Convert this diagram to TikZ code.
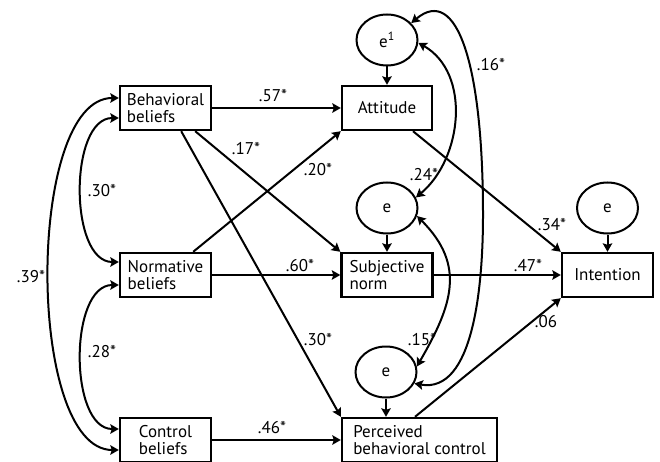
\documentclass[tikz,border=0pt]{standalone}
\usepackage{fontspec}
\setmainfont{PT Sans}
\usetikzlibrary{arrows.meta,shapes.geometric,positioning}

\begin{document}
\begin{tikzpicture}[x=1pt,y=-1pt,>={Stealth[length=8.5pt,width=9.5pt,inset=1.5pt]},
                    line width=2pt,
                    var/.style={draw,line width=2.4pt,minimum width=91pt,minimum height=44pt,
                                align=left,inner sep=2pt,font=\fontsize{17}{16.5}\selectfont},
                    err/.style={draw,ellipse,line width=2pt,minimum width=61pt,minimum height=51pt,
                                inner sep=0pt,font=\fontsize{17}{17}\selectfont},
                    coef/.style={inner sep=0pt,font=\fontsize{17}{17}\selectfont}]

\useasboundingbox (0,0) rectangle (660,462);

\node[var] (bb) at (165.5,108) {Behavioral\\beliefs};
\node[var] (nb) at (165.5,275) {Normative\\beliefs};
\node[var] (cb) at (165.5,440) {Control\\beliefs};
\node[var, minimum width=90pt] (att) at (387,108) {Attitude};
\node[var] (sn) at (387,275) {Subjective\\norm};
\node[var, minimum width=155pt] (pbc) at (419.5,440) {Perceived\\behavioral control};
\node[var] (int) at (607.5,275) {Intention};

\node[err] (e1) at (387,40) {e\textsuperscript{1}};
\node[err] (e2) at (387,208) {e};
\node[err] (e3) at (386,372) {e};
\node[err] (e4) at (607.5,208) {e};

\draw[->] (bb) -- (att);
\draw[->] ([xshift=-17pt]bb.south east) -- (sn.north west);
\draw[->] ([xshift=-31pt]bb.south east) -- (pbc.north west);
\draw[->] ([xshift=-19pt]nb.north east) -- (att.south west);
\draw[->] (nb) -- (sn);
\draw[->] (cb) -- (pbc);
\draw[->] ([xshift=26pt]att.south) -- (int.north west);
\draw[->] (sn) -- (int);
\draw[->] ([xshift=-4.5pt]pbc.north) -- (int.south west);

\draw[->] (e1) -- (att);
\draw[->] (e2) -- (sn);
\draw[->] (e3.south) -- (e3.south |- pbc.north);
\draw[->] (e4) -- (int);

\draw[<->] ([yshift=-10pt]bb.west) to[out=180,in=180,distance=50pt] ([yshift=13pt]nb.west);
\draw[<->] ([yshift=-10pt]nb.west) to[out=180,in=180,distance=50pt] ([yshift=11pt]cb.west);
\draw[<->] ([yshift=10pt]bb.west) to[out=180,in=180,distance=93pt] ([yshift=-10pt]cb.west);

\draw[<->] (e1.-5) to[out=-30,in=40,distance=61pt] (e2.20);
\draw[<->] (e2.-15) to[out=-45,in=60,distance=70pt] (e3.10);
\coordinate (c16) at (483,215);
\draw[<->] (e1.35) to[out=40,in=90,out distance=60pt,in distance=150pt] (c16)
                   to[out=-90,in=-10,out distance=71pt,in distance=60pt] (e3.-22);

\node[coef] (l57) at (273,96) {.57*};
\node[coef] (l17) at (246,149) {.17*};
\node[coef] (l20) at (318,170) {.20*};
\node[coef] (l30a) at (102,191) {.30*};
\node[coef] (l39) at (31,277) {.39*};
\node[coef] (l28) at (102,352) {.28*};
\node[coef] (l60) at (300,266) {.60*};
\node[coef] (l30b) at (318,340) {.30*};
\node[coef] (l46) at (272,428) {.46*};
\node[coef] (l16) at (491,65) {.16*};
\node[coef] (l24) at (424,175) {.24*};
\node[coef] (l34) at (552,225) {.34*};
\node[coef] (l47) at (528,266) {.47*};
\node[coef] (l06) at (546,322) {.06};
\node[coef] (l15) at (422,340) {.15*};

\end{tikzpicture}
\end{document}
